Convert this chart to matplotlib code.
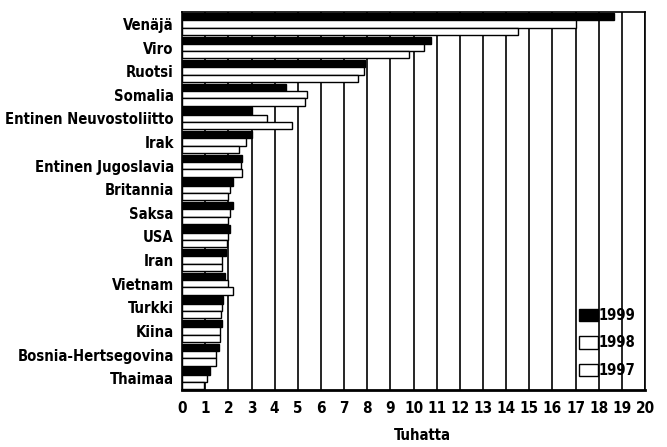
import matplotlib
matplotlib.use("Agg")
import matplotlib.pyplot as plt
import numpy as np
from matplotlib import font_manager

categories = ["Venäjä", "Viro", "Ruotsi", "Somalia", "Entinen Neuvostoliitto", "Irak",
              "Entinen Jugoslavia", "Britannia", "Saksa", "USA", "Iran", "Vietnam",
              "Turkki", "Kiina", "Bosnia-Hertsegovina", "Thaimaa"]
v1999 = [18.66, 10.76, 7.9, 4.49, 3.01, 3.0, 2.58, 2.22, 2.19, 2.07, 1.9, 1.87, 1.76, 1.71, 1.61, 1.21]
v1998 = [17.0, 10.47, 7.85, 5.41, 3.66, 2.75, 2.53, 2.07, 2.07, 1.97, 1.71, 1.97, 1.71, 1.64, 1.45, 1.09]
v1997 = [14.5, 9.82, 7.6, 5.31, 4.75, 2.48, 2.58, 1.97, 1.97, 1.93, 1.71, 2.18, 1.67, 1.64, 1.45, 0.95]
series_labels = ["1999", "1998", "1997"]
xticks = list(range(0, 21))
xlabel = "Tuhatta"

# look for a condensed / narrow bold font
cands = []
for f in font_manager.fontManager.ttflist:
    fn = f.fname.lower()
    if ("condensed" in fn or "narrow" in fn or f.stretch in ("condensed", "semi-condensed", "extra-condensed")) and f.weight in (600, 700, 800, "bold"):
        cands.append(f.fname)
cands.sort(key=lambda s: (("semi" in s.lower()), ("extra" in s.lower()), ("oblique" in s.lower() or "italic" in s.lower()), s))
if cands:
    fp = font_manager.FontProperties(fname=cands[0])
    base = 10.6
else:
    fp = font_manager.FontProperties(family="Roboto", weight="bold")
    base = 10

def F(size):
    p = fp.copy()
    p.set_size(size)
    return p

fig = plt.figure(figsize=(6.67, 4.47), dpi=100)
ax = fig.add_axes([0.273, 0.1275, 0.694, 0.8455])

n = len(categories)
y = np.arange(n)[::-1].astype(float)
h = 0.31
ax.barh(y + h, v1999, height=h, color="black", edgecolor="black", linewidth=1.0, label=series_labels[0], zorder=3)
ax.barh(y, v1998, height=h, color="white", edgecolor="black", linewidth=1.0, label=series_labels[1], zorder=3)
ax.barh(y - h, v1997, height=h, color="white", edgecolor="black", linewidth=1.0, label=series_labels[2], zorder=3)

ax.set_xlim(0, 20)
ax.set_ylim(-0.5, n - 0.5)
ax.set_xticks(xticks)
ax.set_xticklabels([str(t) for t in xticks], fontproperties=F(base + 0.4))
ax.set_yticks(y)
ax.set_yticklabels(categories, fontproperties=F(base))
ax.tick_params(axis='both', length=0, pad=8)
ax.tick_params(axis='y', pad=6)
for t in xticks[1:]:
    ax.axvline(t, color="black", linewidth=1.2, zorder=1)
for s in ["left", "right", "top"]:
    ax.spines[s].set_linewidth(1.2)
ax.spines["bottom"].set_linewidth(2.0)
ax.set_xlabel(xlabel, fontproperties=F(base))
ax.xaxis.set_label_coords(0.52, -0.12)
ax.xaxis.label.set_va("center")

leg = ax.legend(loc="lower right", bbox_to_anchor=(1.008, -0.003), frameon=False, prop=F(base),
                handlelength=1.3, handleheight=1.0, handletextpad=0.05, labelspacing=0.85)
for hnd in leg.legend_handles:
    hnd.set_height(9)

fig.savefig("out.png", dpi=100)
